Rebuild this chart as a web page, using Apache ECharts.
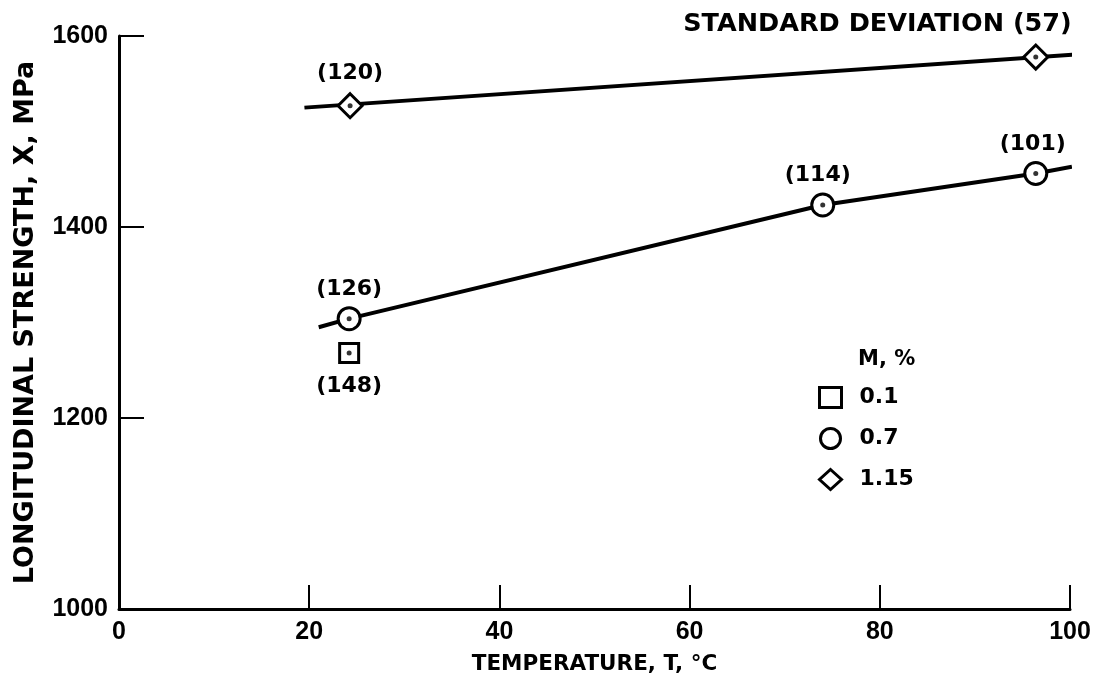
<!DOCTYPE html>
<html>
<head>
<meta charset="utf-8">
<script src="https://cdn.jsdelivr.net/npm/echarts@6/dist/echarts.min.js"></script>
<style>
html,body{margin:0;padding:0;background:#fff;}
#chart{width:1097px;height:690px;}
</style>
</head>
<body>
<div id="chart"></div>
<script>
// Data
var xTicks = [0, 20, 40, 60, 80, 100];
var yTicks = [1000, 1200, 1400, 1600];

// M = 0.1 %
var sqT = [24.2];
var sqX = [1268];
var sqSD = [148];

// M = 0.7 %
var ciT = [24.2, 74.0, 96.4];
var ciX = [1304, 1423, 1456];
var ciSD = [126, 114, 101];

// M = 1.15 %
var diT = [24.3, 96.4];
var diX = [1527, 1578];
var diSD = [120, 57];

// Fitted lines as drawn
var lowLineT = [21.0, 24.2, 74.0, 96.4, 100.2];
var lowLineX = [1295, 1304, 1423, 1456, 1463];
var upLineT = [19.5, 101.0];
var upLineX = [1525, 1581];

function zip(a, b) { return a.map(function (v, i) { return [v, b[i]]; }); }

var TICKFONT = 'Liberation Sans, Arial, sans-serif';
var FONT = 'DejaVu Sans, sans-serif';
var chart = echarts.init(document.getElementById('chart'), null, {renderer: 'canvas'});

var ciDx = [0, -5, -3];

chart.setOption({
  animation: false,
  backgroundColor: '#fff',
  grid: {left: 119, right: 27, top: 36, bottom: 81, containLabel: false, outerBoundsMode: 'none'},
  xAxis: {
    type: 'value', min: 0, max: 100, interval: 20,
    name: 'TEMPERATURE, T, \u00B0C', nameLocation: 'middle', nameGap: 44,
    nameTextStyle: {fontFamily: FONT, fontSize: 21.5, fontWeight: 'bold', color: '#000'},
    axisLine: {lineStyle: {color: '#000', width: 3}},
    axisTick: {inside: true, length: 24, lineStyle: {color: '#000', width: 2}},
    axisLabel: {margin: 11, fontFamily: TICKFONT, fontSize: 25, fontWeight: 'bold', color: '#000'},
    splitLine: {show: false}
  },
  yAxis: {
    type: 'value', min: 1000, max: 1600, interval: 200,
    name: 'LONGITUDINAL STRENGTH, X, MPa', nameLocation: 'middle', nameGap: 80,
    nameRotate: 90,
    nameTextStyle: {fontFamily: FONT, fontSize: 27, fontWeight: 'bold', color: '#000'},
    axisLine: {lineStyle: {color: '#000', width: 3}},
    axisTick: {inside: true, length: 25, lineStyle: {color: '#000', width: 2}},
    axisLabel: {margin: 11, fontFamily: TICKFONT, fontSize: 25, fontWeight: 'bold', color: '#000',
      formatter: function (v) { return String(v); }},
    splitLine: {show: false}
  },
  legend: {
    orient: 'vertical', left: 818, top: 386, itemGap: 18, padding: 0,
    itemWidth: 22, itemHeight: 20,
    textStyle: {fontFamily: FONT, fontSize: 22, fontWeight: 'bold', color: '#000', padding: [0, 0, 0, 13]},
    data: [
      {name: '0.1', icon: 'rect', itemStyle: {color: '#fff', borderColor: '#000', borderWidth: 3}},
      {name: '0.7', icon: 'circle', itemStyle: {color: '#fff', borderColor: '#000', borderWidth: 3}},
      {name: '1.15', icon: 'diamond', itemStyle: {color: '#fff', borderColor: '#000', borderWidth: 3}}
    ]
  },
  graphic: [{
    type: 'text', left: 858, top: 349,
    style: {text: 'M, %', font: 'bold 21px ' + FONT, fill: '#000'}
  }],
  series: [
    {
      type: 'line', name: 'upper', data: zip(upLineT, upLineX), showSymbol: false, symbol: 'none',
      lineStyle: {color: '#000', width: 4}, clip: false, silent: true, z: 1
    },
    {
      type: 'line', name: 'lower', data: zip(lowLineT, lowLineX), showSymbol: false, symbol: 'none',
      lineStyle: {color: '#000', width: 4}, clip: false, silent: true, z: 1
    },
    {
      type: 'scatter', name: '0.1', data: zip(sqT, sqX), symbol: 'rect', symbolSize: 19,
      itemStyle: {color: '#fff', borderColor: '#000', borderWidth: 3, opacity: 1}, z: 3,
      label: {show: true, position: 'bottom', distance: 11,
        formatter: function (p) { return '(' + sqSD[p.dataIndex] + ')'; },
        fontFamily: FONT, fontSize: 22, fontWeight: 'bold', color: '#000'}
    },
    {
      type: 'scatter', name: '0.7', data: zip(ciT, ciX), symbol: 'circle', symbolSize: 22,
      itemStyle: {color: '#fff', borderColor: '#000', borderWidth: 3, opacity: 1}, z: 3,
      label: {show: true, position: 'top', distance: 6,
        formatter: function (p) { return '(' + ciSD[p.dataIndex] + ')'; },
        fontFamily: FONT, fontSize: 22, fontWeight: 'bold', color: '#000'},
      labelLayout: function (params) { return {dx: ciDx[params.dataIndex]}; }
    },
    {
      type: 'scatter', name: '1.15', data: zip(diT, diX), symbol: 'diamond', symbolSize: 24,
      itemStyle: {color: '#fff', borderColor: '#000', borderWidth: 3, opacity: 1}, z: 3,
      label: {show: true, position: 'top', distance: 8,
        formatter: function (p) {
          return p.dataIndex === diSD.length - 1 ? 'STANDARD DEVIATION (' + diSD[p.dataIndex] + ')' : '(' + diSD[p.dataIndex] + ')';
        },
        fontFamily: FONT, fontSize: 22, fontWeight: 'bold', color: '#000'},
      labelLayout: function (params) {
        if (params.dataIndex === diSD.length - 1) {
          return {align: 'right', dx: 36, dy: 2, fontSize: 25.5};
        }
        return {};
      }
    },
    {
      type: 'scatter', name: 'dots', data: zip(sqT, sqX).concat(zip(ciT, ciX), zip(diT, diX)),
      symbol: 'circle', symbolSize: 5, itemStyle: {color: '#000'}, z: 4, silent: true
    }
  ]
});
</script>
</body>
</html>
